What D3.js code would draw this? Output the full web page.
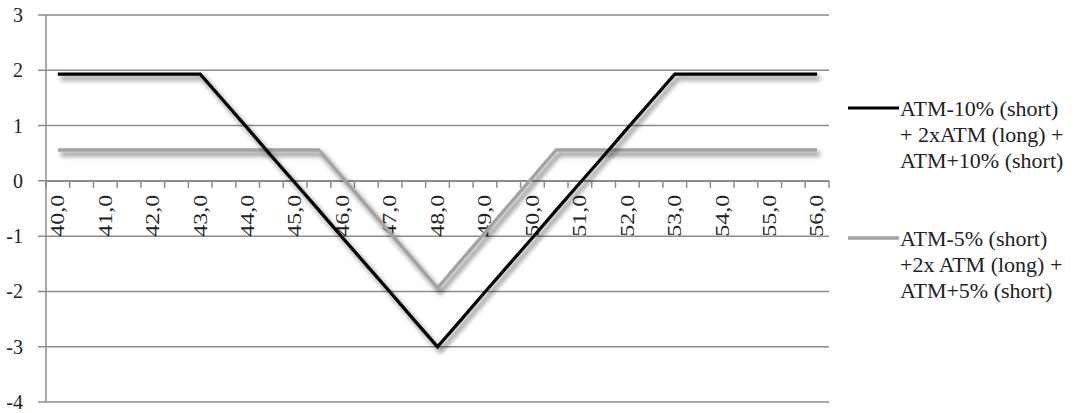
<!DOCTYPE html>
<html>
<head>
<meta charset="utf-8">
<script src="https://cdn.jsdelivr.net/npm/d3@7"></script>
<style>
  body { margin: 0; background: #fff; }
</style>
</head>
<body>
<svg width="1084" height="413"></svg>
<script>
// strike prices along the category axis (step 0,5)
var strikes = [40, 40.5, 41, 41.5, 42, 42.5, 43, 43.5, 44, 44.5, 45, 45.5, 46, 46.5, 47, 47.5,
  48, 48.5, 49, 49.5, 50, 50.5, 51, 51.5, 52, 52.5, 53, 53.5, 54, 54.5, 55, 55.5, 56];

// ATM-10% (short) + 2xATM (long) + ATM+10% (short)
var wide = [1.93, 1.93, 1.93, 1.93, 1.93, 1.93, 1.93, 1.44, 0.95, 0.45, -0.04, -0.53, -1.03, -1.52, -2.01, -2.51,
  -3.0, -2.51, -2.01, -1.52, -1.03, -0.53, -0.04, 0.45, 0.95, 1.44, 1.93, 1.93, 1.93, 1.93, 1.93, 1.93, 1.93];

// ATM-5% (short) +2x ATM (long) + ATM+5% (short)
var narrow = [0.56, 0.56, 0.56, 0.56, 0.56, 0.56, 0.56, 0.56, 0.56, 0.56, 0.56, 0.56, 0.06, -0.44, -0.94, -1.44,
  -1.94, -1.44, -0.94, -0.44, 0.06, 0.56, 0.56, 0.56, 0.56, 0.56, 0.56, 0.56, 0.56, 0.56, 0.56, 0.56, 0.56];

var yTicks = [3, 2, 1, 0, -1, -2, -3, -4];

var legendWide = ["ATM-10% (short)", "+ 2xATM (long) +", "ATM+10% (short)"];
var legendNarrow = ["ATM-5% (short)", "+2x ATM (long) +", "ATM+5% (short)"];

var plotLeft = 46, plotRight = 829, plotTop = 15, plotBottom = 402;
var gridColor = "#8c8c8c";
var serif = "'Liberation Serif', 'DejaVu Serif', serif";

var svg = d3.select("svg");

// shadow like the excel line effect (user space so flat lines keep it)
var f = svg.append("defs").append("filter")
  .attr("id", "shadow").attr("filterUnits", "userSpaceOnUse")
  .attr("x", 0).attr("y", 0).attr("width", 1084).attr("height", 413);
f.append("feDropShadow")
  .attr("dx", 3).attr("dy", 4).attr("stdDeviation", 2.5)
  .attr("flood-color", "#000").attr("flood-opacity", 0.55);

var x = d3.scaleBand().domain(strikes).range([plotLeft, plotRight]);
var y = d3.scaleLinear().domain([-4, 3]).range([plotBottom, plotTop]);

// horizontal gridlines + y ticks
svg.append("g").selectAll("line")
  .data(yTicks)
  .enter().append("line")
  .attr("x1", plotLeft - 8).attr("x2", plotRight)
  .attr("y1", function(d){ return y(d) }).attr("y2", function(d){ return y(d) })
  .style("stroke", gridColor).style("stroke-width", 1.5);

svg.append("line")
  .attr("x1", plotLeft).attr("x2", plotLeft).attr("y1", plotTop).attr("y2", plotBottom)
  .style("stroke", gridColor).style("stroke-width", 1.5);

svg.append("g").selectAll("text")
  .data(yTicks)
  .enter().append("text")
  .attr("x", 23).attr("y", function(d){ return y(d) })
  .attr("dy", "0.35em")
  .attr("text-anchor", "end")
  .attr("font-family", serif)
  .style("font-size", "20px").style("fill", "#222")
  .text(function(d){ return d });

// category axis sits on zero, ticks between categories
var axis = d3.axisBottom(x).tickSize(0).tickFormat("");
var ax = svg.append("g").attr("transform", "translate(0," + y(0) + ")").call(axis);
ax.select(".domain").style("stroke", gridColor).style("stroke-width", 1.5);

var bounds = strikes.map(function(d){ return x(d) }).concat([plotRight]);
svg.append("g").selectAll("line")
  .data(bounds)
  .enter().append("line")
  .attr("x1", function(d){ return d }).attr("x2", function(d){ return d })
  .attr("y1", y(0)).attr("y2", y(0) + 7)
  .style("stroke", gridColor).style("stroke-width", 1.5);

svg.append("g").selectAll("text")
  .data(strikes.filter(function(d, i){ return i % 2 === 0 }))
  .enter().append("text")
  .attr("transform", function(d){
    return "translate(" + (x(d) + x.bandwidth() / 2) + "," + (y(0) + 14) + ") rotate(-90)";
  })
  .attr("text-anchor", "end")
  .attr("dy", "0.35em")
  .attr("textLength", 42).attr("lengthAdjust", "spacingAndGlyphs")
  .attr("font-family", serif)
  .style("font-size", "18px").style("fill", "#222")
  .text(function(d){ return d.toFixed(1).replace(".", ",") });

// the two payoff lines
var line = d3.line()
  .x(function(d, i){ return x(strikes[i]) + x.bandwidth() / 2 })
  .y(function(d){ return y(d) });

svg.append("path").datum(narrow)
  .attr("d", line)
  .attr("filter", "url(#shadow)")
  .style("fill", "none").style("stroke", "#a3a3a3").style("stroke-width", 3.5);

svg.append("path").datum(wide)
  .attr("d", line)
  .attr("filter", "url(#shadow)")
  .style("fill", "none").style("stroke", "#000").style("stroke-width", 3.2);

// legend
var drawLegend = function(lines, color, width, cy){
  var g = svg.append("g");
  g.append("line")
    .attr("x1", 848).attr("x2", 899).attr("y1", cy).attr("y2", cy)
    .style("stroke", color).style("stroke-width", width);
  g.selectAll("text")
    .data(lines)
    .enter().append("text")
    .attr("x", 900).attr("y", function(d, i){ return cy + i * 26 })
    .attr("dy", "0.35em")
    .attr("font-family", serif)
    .style("font-size", "22px").style("fill", "#222")
    .text(function(d){ return d });
};
drawLegend(legendWide, "#000", 3.2, 108);
drawLegend(legendNarrow, "#a3a3a3", 3.5, 238);
</script>
</body>
</html>
